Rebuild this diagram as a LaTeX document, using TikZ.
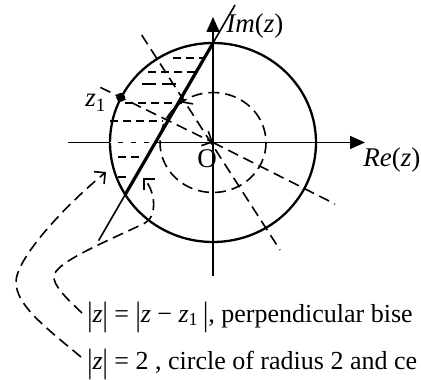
\documentclass[tikz,border=0pt]{standalone}
\usepackage{fontspec}
\setmainfont{Liberation Serif}
\usepackage{graphicx}
\usepackage{tikz}
\usetikzlibrary{arrows.meta,positioning}
\newcommand{\absbar}{\raisebox{-0.15em}{\scalebox{1}[1.3]{|}}}
\tikzset{
  axis/.style={line width=0.8pt, -{Triangle[length=7.5pt,width=6.5pt]}},
  bigcircle/.style={line width=1.15pt},
  bisector/.style={line width=1.6pt},
  thinline/.style={line width=0.8pt},
  guide/.style={line width=0.8pt, dash pattern=on 5.5pt off 3pt},
  hatch/.style={line width=0.8pt, dash pattern=on 4pt off 2.5pt},
  pointer/.style={guide, -{Straight Barb[length=4pt,width=8pt]}},
  axislabel/.style={font=\fontsize{13.5}{16}\selectfont, inner sep=0pt},
  caption/.style={font=\fontsize{13}{16}\selectfont, inner sep=0pt},
}

\begin{document}
\begin{tikzpicture}[x=0.5pt,y=-0.5pt]
\useasboundingbox (0,0) rectangle (421,379);
% points
\coordinate (O) at (213,142.5);
\coordinate (top) at (213,43);
\coordinate (cut) at (125,195);
\coordinate (bisA) at (235,5);
\coordinate (bisB) at (98.6,240.6);
\coordinate (z1) at (120.7,97.3);
\coordinate (zext) at (100.4,87.4);
\coordinate (zfar) at (335,204);
\coordinate (nA) at (141.7,35);
\coordinate (nB) at (280,250);
\coordinate (circA) at (106,172);
\coordinate (bisC) at (143,178);

% axes
\draw[axis] (68,142.5) -- (365,142.5);
\draw[axis] (213,276) -- (213,17);

% circles
\draw[bigcircle] (O) ellipse [x radius=103, y radius=99.5];
\draw[guide] (O) ellipse [x radius=53, y radius=50];
\draw[guide, -{Straight Barb[length=4pt,width=8pt]}] (185,99.8) -- (181,102.6);

% dashed lines through O
\draw[pointer] (zext) -- (O);
\draw[guide] (O) -- (zfar);
\draw[guide] (nA) -- (nB);

% hatching
\draw[white, hatch, line width=0.4pt] (110,142.5) -- (156,142.5);
\foreach \y/\xa/\xb in {58/173/203, 72/148/197, 103/125/182, 121/110/163, 157/118/143, 177/118/129}
  \draw[hatch] (\xa,\y) -- (\xb,\y);
\draw[hatch, line width=1.2pt, dash pattern=on 7pt off 3pt] (142,84) -- (178,84);

% perpendicular bisector
\draw[thinline] (bisA) -- (bisB);
\draw[bisector] (top) -- (cut);
\fill (z1) circle (4.5);

% labels
\node[axislabel, anchor=base west] (im) at (226,33) {\textit{Im}(\textit{z})};
\node[axislabel, anchor=base west] (re) at (363,166) {\textit{Re}(\textit{z})};
\node[axislabel, anchor=base] (o) at (207,167) {O};
\node[axislabel, anchor=base west] (zl) at (85,107) {\textit{z}\textsubscript{1}};

\node[caption, anchor=base west] (cap1) at (87,322)
  {\absbar\textit{z}\absbar{} = \absbar\textit{z} − \textit{z}\textsubscript{1}\,\absbar, perpendicular bise};
\node[caption, anchor=base west] (cap2) at (87,369)
  {\absbar\textit{z}\absbar{} = 2 , circle of radius 2 and ce};

% pointers from captions
\draw[pointer] (81,357) .. controls (45,327) and (16,305) .. (16,282)
  .. controls (16,260) and (60,210) .. (circA);
\draw[pointer] (82,313) .. controls (65,297) and (53,285) .. (54,276)
  .. controls (55,262) and (110,240) .. (145,223)
  .. controls (158,216) and (155,190) .. (bisC);
\end{tikzpicture}
\end{document}
